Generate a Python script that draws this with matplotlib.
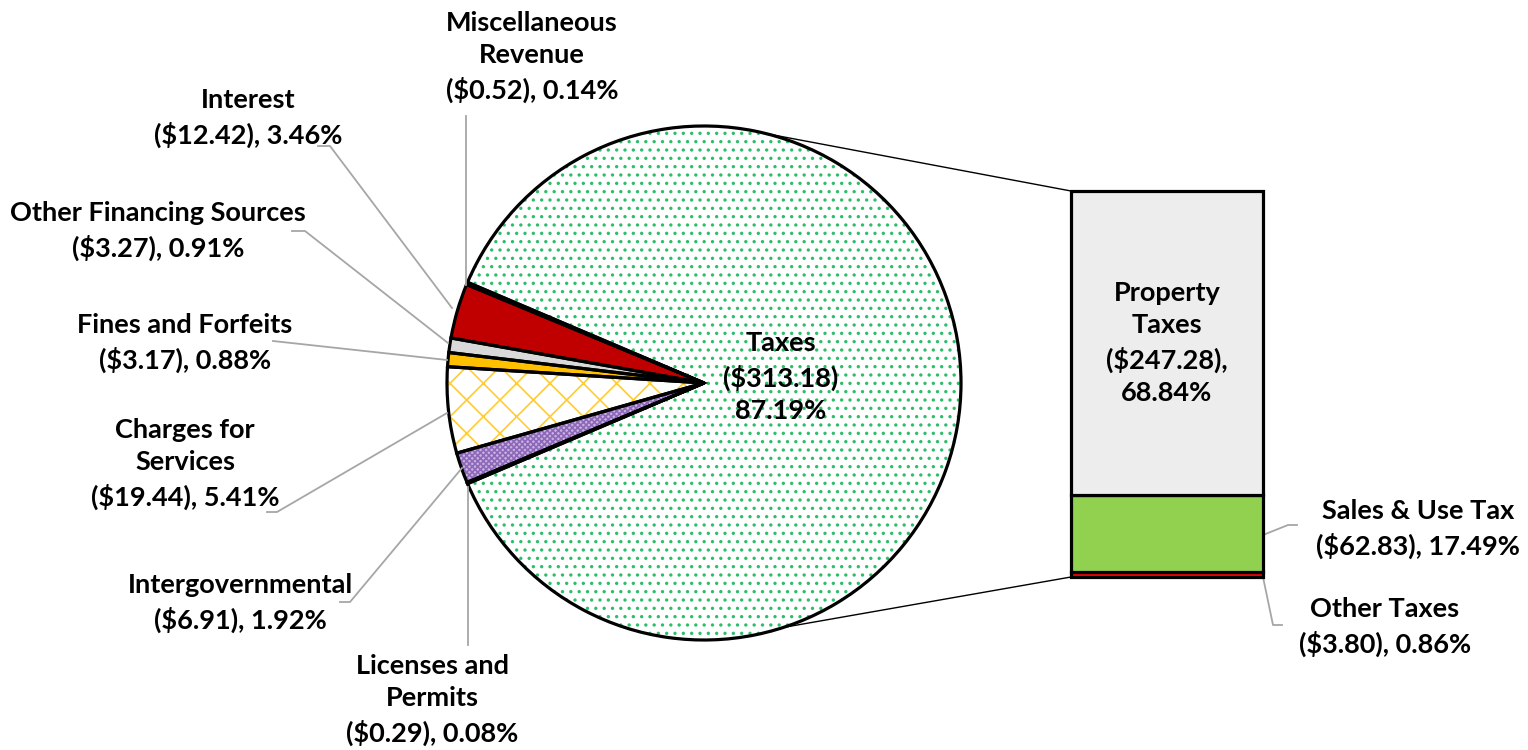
import numpy as np
import matplotlib.pyplot as plt

plt.rcParams['font.family'] = ['Lato', 'DejaVu Sans']
plt.rcParams['font.weight'] = 'bold'
plt.rcParams['hatch.linewidth'] = 1.2

# pie: revenue sources ($ millions), counterclockwise from Taxes
pie_labels = ["Taxes", "Miscellaneous\nRevenue", "Interest", "Other Financing Sources",
              "Fines and Forfeits", "Charges for\nServices", "Intergovernmental",
              "Licenses and\nPermits"]
pie_values = [313.18, 0.52, 12.42, 3.27, 3.17, 19.44, 6.91, 0.29]
pie_pcts = ["87.19%", "0.14%", "3.46%", "0.91%", "0.88%", "5.41%", "1.92%", "0.08%"]

# bar: breakdown of Taxes, bottom to top
bar_labels = ["Other Taxes", "Sales & Use Tax", "Property\nTaxes"]
bar_values = [3.80, 62.83, 247.28]
bar_pcts = ["0.86%", "17.49%", "68.84%"]

W, H = 1528, 750
fig = plt.figure(figsize=(W / 100, H / 100), dpi=100)
ax = fig.add_axes([0, 0, 1, 1])

def Y(y):
    return H - y

cx, cy, R = 704, Y(383), 257
start = -180 * pie_values[0] / sum(pie_values)

fills = ['white', 'black', '#C00000', '#D9D9D9', '#FFC000', 'white', '#C9B3E3', 'black']
hatches = ['..', None, None, None, None, 'x', 'xxxxxx', None]
hcolors = ['#2DBE6C', 'black', '#C00000', '#D9D9D9', '#FFC000', '#FFCC33', '#8D68B8', 'black']

wedges, _ = ax.pie(pie_values, center=(cx, cy), radius=R, startangle=start,
                   colors=fills, counterclock=True, frame=True,
                   wedgeprops=dict(linewidth=0))
for w, h, hc in zip(wedges, hatches, hcolors):
    w.set_edgecolor(hc)
    if h:
        w.set_hatch(h)
ax.pie(pie_values, center=(cx, cy), radius=R, startangle=start, frame=True,
       colors=['none'] * len(pie_values),
       wedgeprops=dict(linewidth=2.3, edgecolor='black'))
ax.set_xlim(0, W)
ax.set_ylim(0, H)
ax.set_aspect('equal')
ax.axis('off')

fs = 19.5
ls = 1.42
lead = '#A6A6A6'

# pie labels: (x, y, leader points)
pie_pos = [
    (781, 377, None),
    (532, 57, [(466, 116), (466, 285)]),
    (248, 118, [(318, 146), (330, 146), (452, 308)]),
    (158, 231, [(292, 231), (305, 231), (448, 343)]),
    (185, 343, [(273, 341), (447, 360)]),
    (185, 464, [(267, 512), (277, 512), (447, 413)]),
    (240, 603, [(340, 602), (350, 602), (462, 468)]),
    (432, 700, [(468, 645), (468, 487)]),
]
for i, (lab, val, pct) in enumerate(zip(pie_labels, pie_values, pie_pcts)):
    x, y, pts = pie_pos[i]
    if i == 0:
        txt = f"{lab}\n(${val:.2f})\n{pct}"
    else:
        txt = f"{lab}\n(${val:.2f}), {pct}"
    ax.text(x, Y(y), txt, ha='center', va='center', fontsize=fs,
            fontweight='bold', linespacing=ls, zorder=5)
    if pts:
        ax.plot([p[0] for p in pts], [Y(p[1]) for p in pts], color=lead, lw=1.3,
                zorder=4)

# bar of the Taxes slice
bx0, bx1, by0, by1 = 1071, 1263, Y(577), Y(191)
bax = fig.add_axes([bx0 / W, by0 / H, (bx1 - bx0) / W, (by1 - by0) / H])
bax.set_xlim(-0.5, 0.5)
bax.set_ylim(0, sum(bar_values))
bax.axis('off')
bottoms = np.cumsum([0] + bar_values[:-1])
bar_colors = ['#FF0000', '#92D050', '#EDEDED']
bax.bar([0] * 3, bar_values, bottom=bottoms, width=1, color=bar_colors,
        edgecolor='black', linewidth=2.3, clip_on=False)

bax.text(0, bottoms[2] + bar_values[2] / 2,
         f"{bar_labels[2]}\n(${bar_values[2]:.2f}),\n{bar_pcts[2]}",
         ha='center', va='center', fontsize=fs, fontweight='bold', linespacing=ls)

side_pos = [(1385, 627, [(1263, 577), (1273, 625), (1282, 625)]),
            (1418, 529, [(1263, 535), (1288, 525), (1297, 525)])]
for i in range(2):
    x, y, pts = side_pos[i]
    ax.text(x, Y(y), f"{bar_labels[i]}\n(${bar_values[i]:.2f}), {bar_pcts[i]}",
            ha='center', va='center', fontsize=fs, fontweight='bold', linespacing=ls)
    ax.plot([p[0] for p in pts], [Y(p[1]) for p in pts], color=lead, lw=1.3)

# connector lines from pie to bar
for ang, (px, py) in [(76, (bx0, by1)), (-72, (bx0, by0))]:
    a = np.deg2rad(ang)
    ax.plot([cx + R * np.cos(a), px], [cy + R * np.sin(a), py], color='black', lw=1)

fig.savefig('out.png', dpi=100)
